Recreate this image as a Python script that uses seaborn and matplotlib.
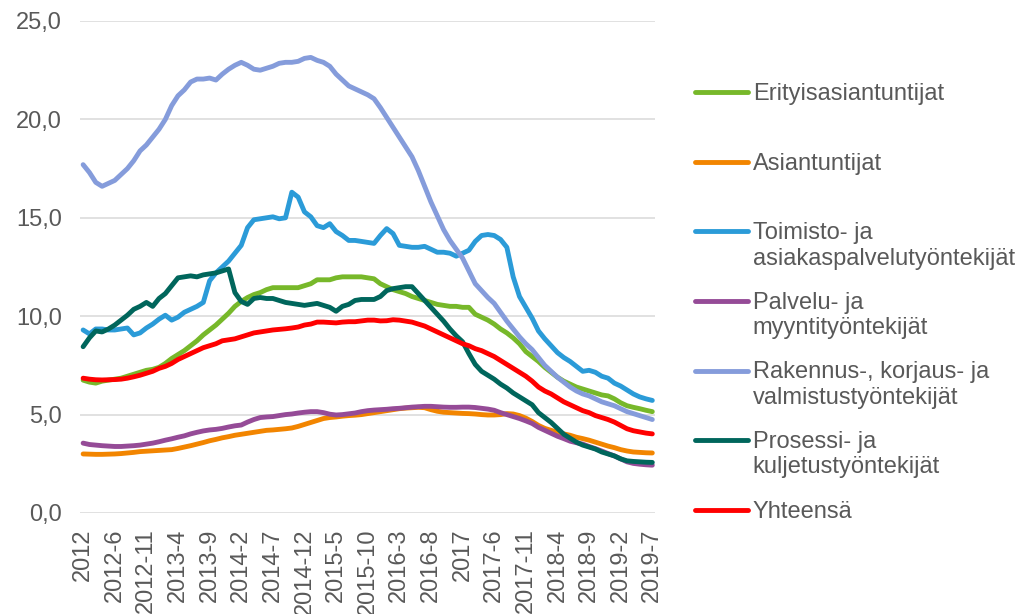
import numpy as np
import pandas as pd
import seaborn as sns
import matplotlib.pyplot as plt
from matplotlib.legend_handler import HandlerLine2D

# Työttömyysaste ammattiryhmittäin, kuukausittain 2012-1 ... 2019-7
sarjat = ["Erityisasiantuntijat", "Asiantuntijat",
          "Toimisto- ja\nasiakaspalvelutyöntekijät", "Palvelu- ja\nmyyntityöntekijät",
          "Rakennus-, korjaus- ja\nvalmistustyöntekijät", "Prosessi- ja\nkuljetustyöntekijät",
          "Yhteensä"]
varit = ["#77B82A", "#F28500", "#2B9BD8", "#954B97", "#859CDB", "#00665C", "#FF0000"]

erityis = [6.75, 6.65, 6.6, 6.7, 6.75, 6.8, 6.85, 6.95, 7.05, 7.15,
           7.25, 7.3, 7.4, 7.6, 7.85, 8.05, 8.25, 8.5, 8.75, 9.05,
           9.3, 9.55, 9.85, 10.15, 10.5, 10.75, 10.95, 11.1, 11.2, 11.35,
           11.45, 11.45, 11.45, 11.45, 11.45, 11.55, 11.65, 11.85, 11.85, 11.85,
           11.95, 12.0, 12.0, 12.0, 12.0, 11.95, 11.9, 11.65, 11.5, 11.35,
           11.25, 11.15, 11.0, 10.9, 10.8, 10.7, 10.6, 10.55, 10.5, 10.5,
           10.45, 10.45, 10.1, 9.95, 9.8, 9.6, 9.35, 9.15, 8.9, 8.6,
           8.2, 7.95, 7.7, 7.4, 7.15, 6.9, 6.7, 6.55, 6.4, 6.3,
           6.2, 6.1, 6.0, 5.95, 5.8, 5.6, 5.45, 5.37, 5.3, 5.22,
           5.15]
asiant = [3.0, 2.99, 2.98, 2.98, 2.99, 3.0, 3.02, 3.05, 3.08, 3.12,
          3.14, 3.16, 3.18, 3.2, 3.22, 3.28, 3.35, 3.42, 3.5, 3.58,
          3.67, 3.74, 3.82, 3.88, 3.95, 4.0, 4.05, 4.1, 4.15, 4.2,
          4.22, 4.25, 4.28, 4.32, 4.4, 4.5, 4.6, 4.7, 4.8, 4.85,
          4.88, 4.92, 4.95, 4.97, 5.0, 5.05, 5.1, 5.15, 5.2, 5.25,
          5.3, 5.33, 5.35, 5.37, 5.35, 5.25, 5.17, 5.12, 5.1, 5.08,
          5.06, 5.05, 5.03, 5.0, 4.98, 4.98, 5.0, 5.05, 5.03, 4.95,
          4.82, 4.65, 4.45, 4.3, 4.2, 4.1, 4.02, 3.95, 3.85, 3.78,
          3.7, 3.6, 3.5, 3.4, 3.32, 3.22, 3.15, 3.1, 3.08, 3.06,
          3.05]
toimisto = [9.3, 9.1, 9.35, 9.35, 9.3, 9.3, 9.35, 9.4, 9.05, 9.15,
            9.4, 9.6, 9.85, 10.05, 9.8, 9.95, 10.2, 10.35, 10.5, 10.7,
            11.8, 12.2, 12.5, 12.8, 13.2, 13.6, 14.5, 14.9, 14.95, 15.0,
            15.05, 14.95, 15.0, 16.3, 16.05, 15.3, 15.05, 14.6, 14.5, 14.7,
            14.3, 14.1, 13.85, 13.85, 13.8, 13.75, 13.7, 14.1, 14.45, 14.2,
            13.6, 13.55, 13.5, 13.5, 13.55, 13.4, 13.25, 13.25, 13.2, 13.05,
            13.2, 13.35, 13.8, 14.1, 14.15, 14.1, 13.9, 13.5, 12.0, 11.0,
            10.45, 9.9, 9.25, 8.85, 8.5, 8.15, 7.9, 7.7, 7.45, 7.2,
            7.25, 7.15, 6.95, 6.85, 6.6, 6.45, 6.25, 6.05, 5.9, 5.8,
            5.72]
palvelu = [3.55, 3.48, 3.45, 3.42, 3.4, 3.38, 3.38, 3.4, 3.42, 3.45,
           3.5, 3.55, 3.62, 3.7, 3.77, 3.85, 3.92, 4.02, 4.1, 4.17,
           4.22, 4.25, 4.3, 4.37, 4.43, 4.47, 4.62, 4.75, 4.85, 4.88,
           4.9, 4.95, 5.0, 5.03, 5.08, 5.12, 5.15, 5.15, 5.1, 5.02,
           4.98, 5.0, 5.04, 5.08, 5.15, 5.2, 5.23, 5.25, 5.27, 5.3,
           5.32, 5.35, 5.38, 5.4, 5.42, 5.42, 5.4, 5.38, 5.37, 5.37,
           5.38, 5.38, 5.36, 5.32, 5.28, 5.22, 5.1, 5.0, 4.9, 4.8,
           4.68, 4.55, 4.35, 4.2, 4.05, 3.9, 3.78, 3.65, 3.57, 3.5,
           3.38, 3.27, 3.15, 3.02, 2.9, 2.75, 2.6, 2.52, 2.48, 2.45,
           2.43]
rakennus = [17.7, 17.3, 16.8, 16.6, 16.75, 16.9, 17.2, 17.5, 17.9, 18.4,
            18.7, 19.1, 19.5, 20.0, 20.7, 21.2, 21.5, 21.9, 22.05, 22.05,
            22.1, 22.0, 22.3, 22.55, 22.75, 22.9, 22.75, 22.55, 22.5, 22.6,
            22.7, 22.85, 22.9, 22.9, 22.95, 23.1, 23.15, 23.0, 22.9, 22.7,
            22.3, 22.0, 21.7, 21.55, 21.4, 21.25, 21.05, 20.6, 20.1, 19.6,
            19.1, 18.6, 18.1, 17.4, 16.6, 15.8, 15.1, 14.4, 13.85, 13.4,
            12.95, 12.3, 11.65, 11.3, 10.95, 10.65, 10.2, 9.75, 9.35, 8.95,
            8.6, 8.3, 7.9, 7.5, 7.2, 6.9, 6.65, 6.4, 6.2, 6.05,
            5.95, 5.8, 5.65, 5.55, 5.45, 5.3, 5.15, 5.05, 4.95, 4.85,
            4.75]
prosessi = [8.45, 8.9, 9.25, 9.2, 9.35, 9.55, 9.8, 10.05, 10.35, 10.5,
            10.7, 10.5, 10.9, 11.15, 11.55, 11.95, 12.0, 12.05, 12.0, 12.1,
            12.15, 12.2, 12.3, 12.4, 11.2, 10.75, 10.6, 10.9, 10.95, 10.9,
            10.9, 10.8, 10.7, 10.65, 10.6, 10.55, 10.6, 10.65, 10.55, 10.45,
            10.25, 10.5, 10.6, 10.8, 10.85, 10.85, 10.85, 11.0, 11.3, 11.4,
            11.45, 11.5, 11.5, 11.15, 10.8, 10.45, 10.1, 9.75, 9.35, 9.0,
            8.7, 8.1, 7.55, 7.2, 7.0, 6.8, 6.55, 6.35, 6.1, 5.9,
            5.7, 5.5, 5.1, 4.85, 4.6, 4.3, 4.0, 3.8, 3.6, 3.45,
            3.35, 3.25, 3.1, 3.0, 2.9, 2.75, 2.65, 2.62, 2.6, 2.58,
            2.57]
yhteensa = [6.85, 6.8, 6.77, 6.76, 6.77, 6.78, 6.8, 6.85, 6.92, 7.0,
            7.1, 7.2, 7.35, 7.45, 7.6, 7.8, 7.95, 8.1, 8.25, 8.4,
            8.5, 8.6, 8.75, 8.8, 8.85, 8.95, 9.05, 9.15, 9.2, 9.25,
            9.3, 9.33, 9.36, 9.4, 9.45, 9.55, 9.6, 9.7, 9.7, 9.68,
            9.66, 9.7, 9.72, 9.72, 9.76, 9.8, 9.8, 9.76, 9.77, 9.82,
            9.8, 9.75, 9.7, 9.6, 9.5, 9.35, 9.2, 9.05, 8.9, 8.75,
            8.6, 8.5, 8.35, 8.25, 8.1, 7.95, 7.75, 7.55, 7.35, 7.15,
            6.95, 6.7, 6.4, 6.2, 6.05, 5.85, 5.65, 5.5, 5.35, 5.2,
            5.1, 4.95, 4.85, 4.75, 4.62, 4.45, 4.28, 4.18, 4.12, 4.06,
            4.02]

tick_labels = ["2012", "2012-6", "2012-11", "2013-4", "2013-9", "2014-2", "2014-7",
               "2014-12", "2015-5", "2015-10", "2016-3", "2016-8", "2017", "2017-6",
               "2017-11", "2018-4", "2018-9", "2019-2", "2019-7"]

arvot = [erityis, asiant, toimisto, palvelu, rakennus, prosessi, yhteensa]
kk = np.arange(len(erityis))
df = pd.DataFrame({s: v for s, v in zip(sarjat, arvot)})
df["kk"] = kk
pitka = df.melt(id_vars="kk", var_name="sarja", value_name="arvo")

sns.set_style("white")
plt.rcParams["font.family"] = ["Liberation Sans", "DejaVu Sans"]
harmaa = "#595959"

fig = plt.figure(figsize=(10.2, 6.14), dpi=100)
ax = fig.add_axes([0.0784, 0.1645, 0.5636, 0.8013])

sns.lineplot(data=pitka, x="kk", y="arvo", hue="sarja", hue_order=sarjat,
             palette=dict(zip(sarjat, varit)), linewidth=3.5, legend=False, ax=ax)
for ln in ax.get_lines():
    ln.set_solid_capstyle("round")
    ln.set_solid_joinstyle("round")

ax.set_xlim(-0.5, 90.4)
ax.set_ylim(0, 25)
ax.set_yticks(np.arange(0, 26, 5))
ax.set_yticklabels([f"{v:.1f}".replace(".", ",") for v in np.arange(0, 26, 5)])
ax.set_xticks(kk[::5])
ax.set_xticklabels(tick_labels, rotation=90, va="top", ha="center")
ax.tick_params(axis="both", length=0, labelsize=17, colors=harmaa)
ax.tick_params(axis="y", pad=13)
ax.tick_params(axis="x", pad=11)
ax.set_xlabel("")
ax.set_ylabel("")
ax.grid(axis="y", color="#D9D9D9", linewidth=1.1)
ax.grid(axis="x", visible=False)
ax.set_axisbelow(True)
for sp in ax.spines.values():
    sp.set_visible(False)


class EkaRivi(HandlerLine2D):
    # legendan viiva ensimmäisen tekstirivin kohdalle
    def create_artists(self, legend, orig_handle, xdescent, ydescent,
                       width, height, fontsize, trans):
        arts = super().create_artists(legend, orig_handle, xdescent, ydescent,
                                      width, height, fontsize, trans)
        for a in arts:
            a.set_ydata(np.asarray(a.get_ydata()) + 0.62 * fontsize)
        return arts


nimet = [s if "\n" in s else s + "\n" for s in sarjat]
leg = fig.legend(ax.get_lines(), nimet, loc="upper left",
                 bbox_to_anchor=(695 / 1020, 1 - 83 / 614), frameon=False,
                 fontsize=17, handlelength=2.25, handletextpad=0.2,
                 labelspacing=0.94, borderpad=0, borderaxespad=0,
                 handler_map={plt.Line2D: EkaRivi()})
for t in leg.get_texts():
    t.set_color(harmaa)
    t.set_linespacing(1.2)

fig.savefig("out.png", dpi=100)
